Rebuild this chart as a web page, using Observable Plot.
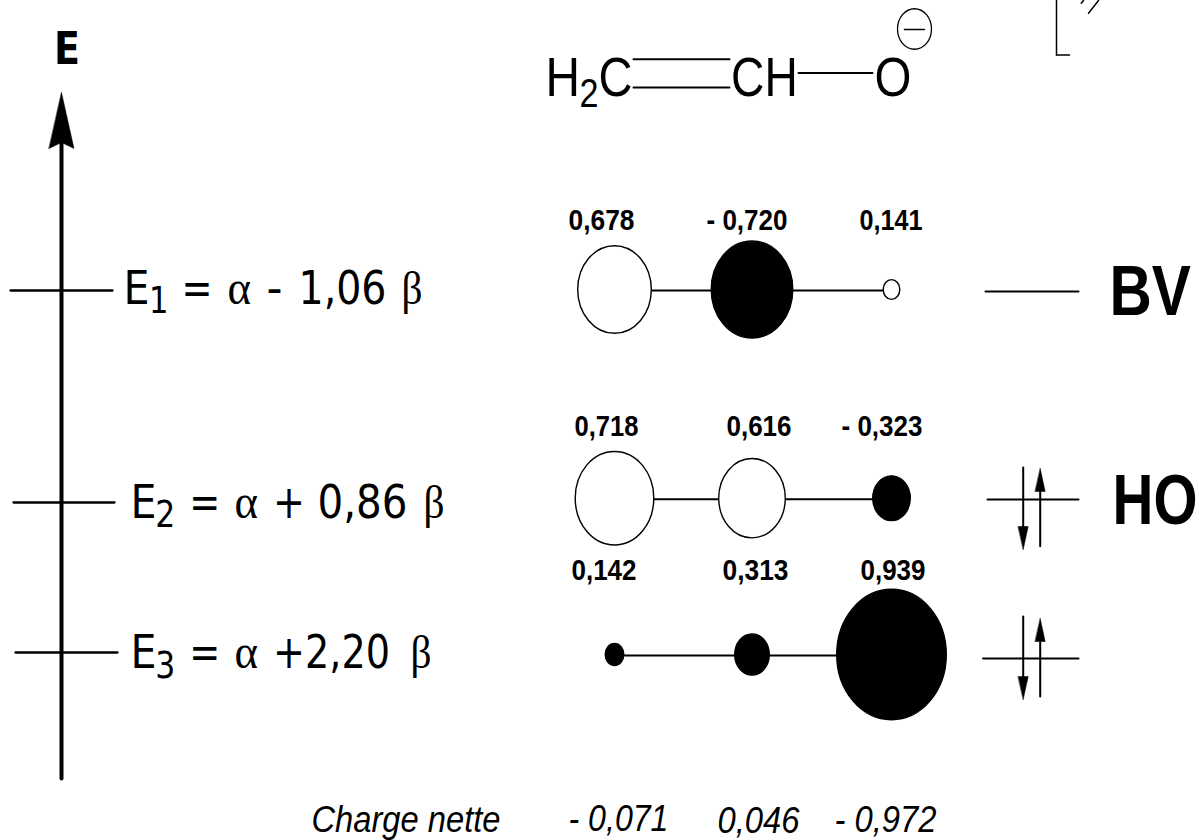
<!DOCTYPE html>
<html><head><meta charset="utf-8">
<style>html,body{margin:0;padding:0;background:#fff}svg{display:block}</style>
<script src="https://cdn.jsdelivr.net/npm/d3@7"></script>
<script src="https://cdn.jsdelivr.net/npm/@observablehq/plot@0.6"></script>
</head><body><div id="chart"></div>
<script>
// ---- values ----
const energies = [-1.06, 0.86, 2.20];
const coefBV = [0.678, -0.720, 0.141];
const coefHO = [0.718, 0.616, -0.323];
const coefLow = [0.142, 0.313, 0.939];
const coefLabelsBV = ["0,678", "- 0,720", "0,141"];
const coefLabelsHO = ["0,718", "0,616", "- 0,323"];
const coefLabelsLow = ["0,142", "0,313", "0,939"];
const phaseBV = ["open", "full", "open"];
const phaseHO = ["open", "open", "full"];
const phaseLow = ["full", "full", "full"];
const chargeLabels = ["- 0,071", "0,046", "- 0,972"];
const levelNames = ["BV", "HO"];
const energyIndex = ["1", "2", "3"];
const energySign = ["-", "+", "+"];
const energyValue = ["1,06", "0,86", "2,20"];

// ---- layout ----
const yDomain = [-1.06, 0.86, 2.20], yRange = [290, 498.7, 655];
const yAt = d3.scaleLinear().domain(yRange).range(yDomain);
const atomX = [614, 751.5, 891];
const NARROW = "'Liberation Sans',Arial,sans-serif";
const SANS = "'DejaVu Sans',sans-serif";
const SERIF = "'Liberation Serif',serif";

const rows = [
  {c: coefBV, l: coefLabelsBV, p: phaseBV, lx: [568, 706, 859], lw: [66, 81, 63], base: 229},
  {c: coefHO, l: coefLabelsHO, p: phaseHO, lx: [574, 726, 841], lw: [64, 65, 81], base: 435},
  {c: coefLow, l: coefLabelsLow, p: phaseLow, lx: [571, 722, 860], lw: [65, 66, 65], base: 579}
];
const lobes = rows.flatMap((r, i) => r.c.map((c, j) => ({energy: energies[i], x: atomX[j], size: Math.abs(c), phase: r.p[j], ly: r.base, lx: r.lx[j], lw: r.lw[j], label: r.l[j]})));

const ellipse = {draw(c, s) {
  const rx = Math.sqrt(s / Math.PI), ry = rx * 1.19, k = 0.5523;
  c.moveTo(rx, 0);
  c.bezierCurveTo(rx, k * ry, k * rx, ry, 0, ry);
  c.bezierCurveTo(-k * rx, ry, -rx, k * ry, -rx, 0);
  c.bezierCurveTo(-rx, -k * ry, -k * rx, -ry, 0, -ry);
  c.bezierCurveTo(k * rx, -ry, rx, -k * ry, rx, 0);
  c.closePath();
}};

const seg = (x1, y1, x2, y2, w = 2) => Plot.line([[x1, yAt(y1)], [x2, yAt(y2)]], {x: d => d[0], y: d => d[1], stroke: "black", strokeWidth: w});
const head = (x, tip, dir, hw, len, notch = 0) => Plot.line(
  [[x, tip], [x + hw, tip + dir * len], [x, tip + dir * (len - notch)], [x - hw, tip + dir * len]].map(d => [d[0], yAt(d[1])]),
  {x: d => d[0], y: d => d[1], fill: "black", stroke: "black", strokeWidth: 0.5, curve: "linear-closed"});
const measure = document.createElement("canvas").getContext("2d");
const txt = (s, x, y, size, family, len, extra = {}) => Plot.text([s], {
  x: () => x, y: () => yAt(y), text: d => d, fontSize: size, fontFamily: family,
  textAnchor: "start", lineAnchor: "bottom", fill: "black", ...extra,
  render: (i, s2, v, d, c, next) => {
    const g = next(i, s2, v, d, c);
    measure.font = `${extra.fontStyle || "normal"} ${extra.fontWeight || 400} ${size}px ${family}`;
    const sx = len / measure.measureText(s).width;
    g.querySelectorAll("text").forEach(t => t.setAttribute("transform", `${t.getAttribute("transform") || ""} scale(${sx},1)`));
    return g;
  }
});

const leftTicks = [[10, 112, 290], [13, 114, 502], [15, 117, 652]];
const rightTicks = [[985, 1078, 291], [987, 1078, 499], [982.5, 1078, 658]];
const energyTok = [
  {E: 123, s: 148.6, sl: 19.5, eq: 181, a: 227, sgx: 266, v: 298, vl: 88, b: 401, base: 303, sub: 312},
  {E: 130, s: 154.7, sl: 20, eq: 188.7, a: 234, sgx: 272.5, v: 317, vl: 90, b: 423, base: 517, sub: 526},
  {E: 130, s: 154.7, sl: 20, eq: 188.7, a: 234, sgx: 272.5, v: null, vl: 117, b: 410, base: 667, sub: 677}
];

const marks = [
  // energy axis
  seg(61, 778, 61, 142, 4),
  head(61, 92, 1, 12.5, 56, 6),
  txt("E", 53.6, 63, 45, SANS, 26, {fontWeight: 700}),
  // energy levels, left
  ...leftTicks.map(t => seg(t[0], t[2], t[1], t[2], 2.3)),
  ...energyTok.flatMap((t, i) => [
    txt("E", t.E, t.base, 46, SANS, 26),
    txt(energyIndex[i], t.s, t.sub, 38, SANS, t.sl),
    txt("=", t.eq, t.base, 46, SANS, 31),
    txt("α", t.a, t.base, 48, SERIF, 23.5),
    ...(t.v == null
      ? [txt(energySign[i] + energyValue[i], t.sgx, t.base, 46, SANS, t.vl)]
      : [txt(energySign[i], t.sgx, t.base, 46, SANS, i === 0 ? 16 : 32), txt(energyValue[i], t.v, t.base, 46, SANS, t.vl)]),
    txt("β", t.b, t.base, 46, SERIF, 21)
  ]),
  // molecule
  txt("H", 545, 95, 55, NARROW, 34.5),
  txt("2", 579, 106, 40, NARROW, 19),
  txt("C", 598, 95, 55, NARROW, 34),
  seg(633, 58.7, 729, 58.7, 2),
  seg(633, 87, 729, 87, 2),
  txt("CH", 730.6, 95, 55, NARROW, 66.7),
  seg(798, 72.5, 872, 72.5, 2),
  txt("O", 874, 95, 55, NARROW, 37),
  Plot.dot([0], {x: () => 914, y: () => yAt(28.5), r: () => 0.17, symbol: ellipse, stroke: "black", strokeWidth: 1.3, fill: "none"}),
  seg(904, 29, 924, 29, 1.5),
  // top-right fragment
  seg(1056, 0, 1056, 54.5, 1.5),
  seg(1056, 54.5, 1069, 54.5, 1.5),
  seg(1088, 12.7, 1098, 0, 1.5),
  seg(1080.7, 2.7, 1083, 0, 1.5),
  // bonds
  ...energies.map(e => Plot.line(atomX.map(x => ({x, e})), {x: "x", y: "e", stroke: "black", strokeWidth: 2})),
  // lobes
  Plot.dot(lobes, {x: "x", y: "energy", r: "size", fill: "phase", symbol: ellipse, stroke: "black", strokeWidth: 1.4, dy: -1}),
  ...lobes.map(d => txt(d.label, d.lx, d.ly, 29, NARROW, d.lw, {fontWeight: 700})),
  // right levels and electrons
  ...rightTicks.map(t => seg(t[0], t[2], t[1], t[2], 2)),
  seg(1022.7, 467, 1022.7, 530, 2), head(1022.7, 549, -1, 5, 23, 0),
  seg(1039.7, 545.7, 1039.7, 488, 2), head(1039.7, 468, 1, 5, 23, 0),
  seg(1022.7, 616, 1022.7, 680, 2), head(1022.7, 699, -1, 5, 23, 0),
  seg(1039.7, 696, 1039.7, 638, 2), head(1039.7, 618, 1, 5, 23, 0),
  txt(levelNames[0], 1109, 314, 70, NARROW, 81.5, {fontWeight: 700}),
  txt(levelNames[1], 1112, 523, 70, NARROW, 85, {fontWeight: 700}),
  // net charges
  txt("Charge nette", 311, 831, 37, NARROW, 189, {fontStyle: "italic"}),
  txt(chargeLabels[0], 568, 830, 37, NARROW, 100, {fontStyle: "italic"}),
  txt(chargeLabels[1], 717, 832, 37, NARROW, 82, {fontStyle: "italic"}),
  txt(chargeLabels[2], 834, 831, 37, NARROW, 102, {fontStyle: "italic"})
];

const chart = Plot.plot({
  width: 1199, height: 840, margin: 0,
  style: {background: "white", overflow: "hidden"},
  x: {type: "linear", domain: [0, 1199], range: [0, 1199], axis: null},
  y: {type: "linear", domain: yDomain, range: yRange, axis: null},
  r: {type: "linear", domain: [0.141, 0.142, 0.17, 0.313, 0.323, 0.616, 0.678, 0.718, 0.72, 0.939], range: [8.3, 9.3, 17, 17.3, 18.8, 33.3, 36.8, 39.3, 40.8, 54.8]},
  color: {type: "ordinal", domain: ["open", "full"], range: ["white", "black"]},
  marks
});
document.getElementById("chart").append(chart);
</script></body></html>
